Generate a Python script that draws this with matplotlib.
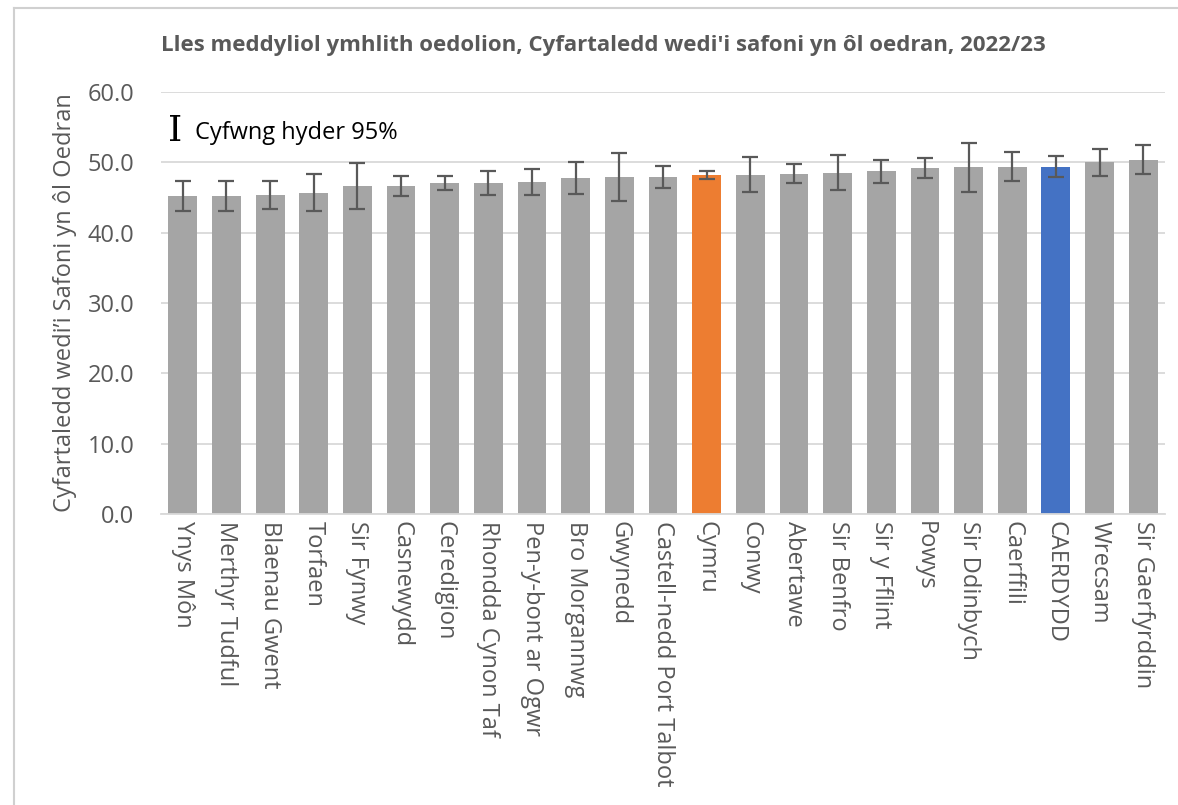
import matplotlib
matplotlib.use('Agg')
import numpy as np
from matplotlib import pyplot as plt
from matplotlib.lines import Line2D

# data
areas = ['Ynys Môn', 'Merthyr Tudful', 'Blaenau Gwent', 'Torfaen', 'Sir Fynwy', 'Casnewydd',
         'Ceredigion', 'Rhondda Cynon Taf', 'Pen-y-bont ar Ogwr', 'Bro Morgannwg', 'Gwynedd',
         'Castell-nedd Port Talbot', 'Cymru', 'Conwy', 'Abertawe', 'Sir Benfro', 'Sir y Fflint',
         'Powys', 'Sir Ddinbych', 'Caerffili', 'CAERDYDD', 'Wrecsam', 'Sir Gaerfyrddin']
values = [45.2, 45.2, 45.4, 45.7, 46.6, 46.6, 47.0, 47.0, 47.2, 47.8, 47.9, 47.9, 48.2,
          48.2, 48.4, 48.5, 48.7, 49.2, 49.3, 49.4, 49.4, 50.0, 50.4]
ci_low = [43.1, 43.1, 43.4, 43.1, 43.3, 45.2, 46.0, 45.3, 45.4, 45.5, 44.5, 46.4, 47.6,
          45.8, 47.0, 46.0, 47.1, 47.8, 45.8, 47.3, 47.9, 48.1, 48.4]
ci_high = [47.4, 47.4, 47.4, 48.3, 49.9, 48.1, 48.1, 48.8, 49.0, 50.0, 51.3, 49.5, 48.8,
           50.8, 49.8, 51.0, 50.3, 50.6, 52.8, 51.5, 50.9, 51.9, 52.4]
highlight = {'Cymru': '#ED7D31', 'CAERDYDD': '#4472C4'}
yticks = [0, 10, 20, 30, 40, 50, 60]

title = "Lles meddyliol ymhlith oedolion, Cyfartaledd wedi'i safoni yn ôl oedran, 2022/23"
ylabel = 'Cyfartaledd wedi’i Safoni yn ôl Oedran'
legend_text = 'Cyfwng hyder 95%'

plt.rcParams['font.family'] = ['Open Sans', 'DejaVu Sans']
txt_col = '#595959'

fig = plt.figure(figsize=(11.78, 8.05), dpi=100)
ax = fig.add_axes([161 / 1178, 1 - 514 / 805, (1165 - 161) / 1178, (514 - 92) / 805])

x = np.arange(len(areas))
vals = np.array(values)
colors = [highlight.get(a, '#A5A5A5') for a in areas]
err = [vals - np.array(ci_low), np.array(ci_high) - vals]

ax.bar(x, vals, width=0.66, color=colors, zorder=2)
ax.errorbar(x, vals, yerr=err, fmt='none', ecolor='#595959', elinewidth=1.6,
            capsize=6, capthick=1.6, zorder=3)

ax.set_xlim(-0.5, len(areas) - 0.5)
ax.set_ylim(0, 60)
ax.set_yticks(yticks)
ax.set_yticklabels([f'{v:.1f}' for v in yticks], fontsize=17, color=txt_col)
ax.set_xticks(x)
ax.set_xticklabels(areas, rotation=-90, fontsize=17, color=txt_col, va='top', ha='center')
ax.tick_params(axis='x', length=0, pad=5)
ax.tick_params(axis='y', length=0, pad=19)
ax.yaxis.grid(True, color='#D9D9D9', linewidth=1.3, zorder=0)
ax.set_axisbelow(True)
for s in ['top', 'right', 'left']:
    ax.spines[s].set_visible(False)
ax.spines['bottom'].set_color('#D9D9D9')
ax.spines['bottom'].set_linewidth(1.3)

ax.set_ylabel(ylabel, fontsize=17, color=txt_col, labelpad=8)

fig.text(603 / 1178, 1 - 46 / 805, title, fontsize=16, fontweight='bold', color=txt_col,
         ha='center', va='center')

# legend for the error bars
fig.text(175 / 1178, 1 - 131 / 805, 'I', family='DejaVu Serif', fontsize=26, color='black',
         ha='center', va='center')
fig.text(195 / 1178, 1 - 133 / 805, legend_text, fontsize=17, color='black',
         ha='left', va='center')

# chart area border (cropped at right and bottom)
fig.add_artist(Line2D([14 / 1178, 14 / 1178], [0, 1 - 8 / 805], transform=fig.transFigure,
                      color='#D0D0D0', linewidth=1.5))
fig.add_artist(Line2D([14 / 1178, 1], [1 - 8 / 805, 1 - 8 / 805], transform=fig.transFigure,
                      color='#D0D0D0', linewidth=1.5))

fig.savefig('out.png', dpi=100)
